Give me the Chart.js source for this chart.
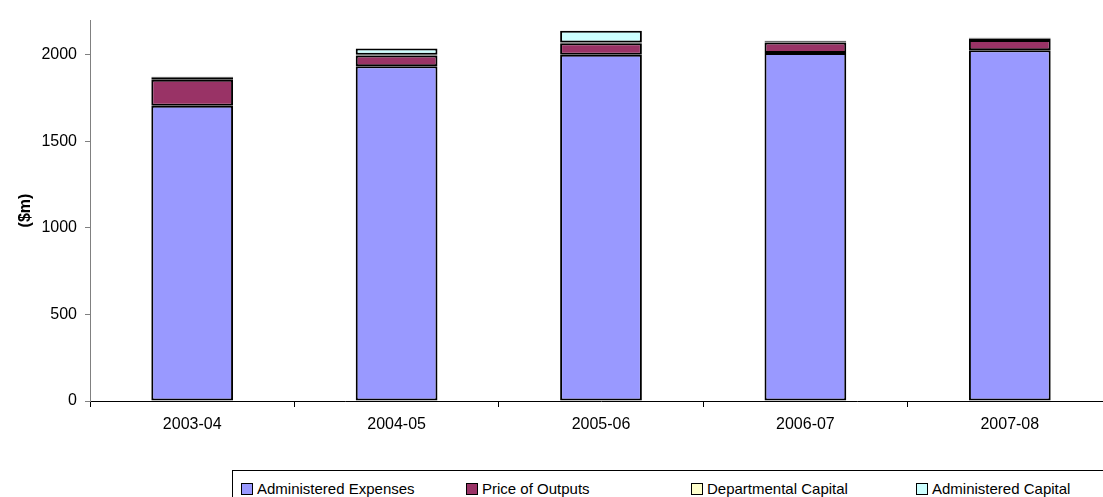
<!DOCTYPE html>
<html>
<head>
<meta charset="utf-8">
<script src="https://cdn.jsdelivr.net/npm/chart.js@4/dist/chart.umd.min.js"></script>
<style>
  html, body { margin: 0; padding: 0; background: #fff; overflow: hidden; }
  #wrap { position: absolute; left: 0; top: 0; width: 1116px; height: 440px; }
  #legend {
    position: absolute; left: 232px; top: 470px; width: 900px; height: 40px;
    border: 1px solid #000; box-sizing: border-box;
    font-family: "Liberation Sans", Arial, sans-serif; font-size: 15px; color: #000;
  }
  .item { position: absolute; top: 9px; display: flex; align-items: center; white-space: nowrap; }
  .swatch { width: 10px; height: 10px; border: 1px solid #000; margin-right: 4px; }
</style>
</head>
<body>
<div id="wrap"><canvas id="budgetChart"></canvas></div>
<div id="legend"></div>
<script>
// Years on the x axis
const years = ['2003-04', '2004-05', '2005-06', '2006-07', '2007-08'];

// Stacked components ($m)
const administeredExpenses = [1705, 1933, 2000, 2010, 2025];
const priceOfOutputs = [150, 62, 66, 60, 60];
const departmentalCapital = [12, 5, 4, 8, 8];
const administeredCapital = [5, 36, 68, 2, 4];

// Y axis labels
const yTicks = [0, 500, 1000, 1500, 2000];
const yMax = 2200;

const fontFamily = '"Liberation Sans", Arial, sans-serif';

function series(label, data, color) {
    return {
        label: label,
        data: data,
        backgroundColor: color,
        borderColor: '#000',
        borderWidth: 2,
        borderSkipped: false,
        barPercentage: 0.4,
        categoryPercentage: 1.0
    };
}

const chart = new Chart(document.getElementById('budgetChart'), {
    type: 'bar',
    data: {
        labels: years,
        datasets: [
            series('Administered Expenses', administeredExpenses, '#9999FF'),
            series('Price of Outputs', priceOfOutputs, '#993366'),
            series('Departmental Capital', departmentalCapital, '#FFFFCC'),
            series('Administered Capital', administeredCapital, '#CCFFFF')
        ]
    },
    options: {
        responsive: true,
        maintainAspectRatio: false,
        animation: false,
        layout: { padding: { top: 20, right: 4, left: 0, bottom: 0 } },
        plugins: { legend: { display: false }, tooltip: { enabled: false } },
        scales: {
            x: {
                stacked: true,
                offset: true,
                grid: { drawOnChartArea: false, offset: true, color: '#000', tickLength: 6 },
                border: { color: '#000', width: 1 },
                ticks: { color: '#000', padding: 8, font: { family: fontFamily, size: 16 } },
                afterFit: s => { s.height = 39; }
            },
            y: {
                stacked: true,
                min: 0,
                max: yMax,
                afterBuildTicks: s => { s.ticks = yTicks.map(v => ({ value: v })); },
                grid: { drawOnChartArea: false, color: '#808080', tickLength: 5 },
                border: { color: '#808080', width: 1 },
                ticks: {
                    color: '#000',
                    padding: 8,
                    font: { family: fontFamily, size: 16 },
                    callback: v => String(v)
                },
                title: {
                    display: true,
                    text: '($m)',
                    color: '#000',
                    padding: { top: 16, bottom: 0 },
                    font: { family: fontFamily, size: 16, weight: 'bold' }
                },
                afterFit: s => { s.width = 90; }
            }
        }
    }
});

// Boxed legend underneath the plot, one column per series
const legendBox = document.getElementById('legend');
chart.data.datasets.forEach((ds, i) => {
    const item = document.createElement('div');
    item.className = 'item';
    item.style.left = (8 + i * 225) + 'px';
    const sw = document.createElement('span');
    sw.className = 'swatch';
    sw.style.background = ds.backgroundColor;
    const txt = document.createElement('span');
    txt.textContent = ds.label;
    item.appendChild(sw);
    item.appendChild(txt);
    legendBox.appendChild(item);
});
</script>
</body>
</html>
